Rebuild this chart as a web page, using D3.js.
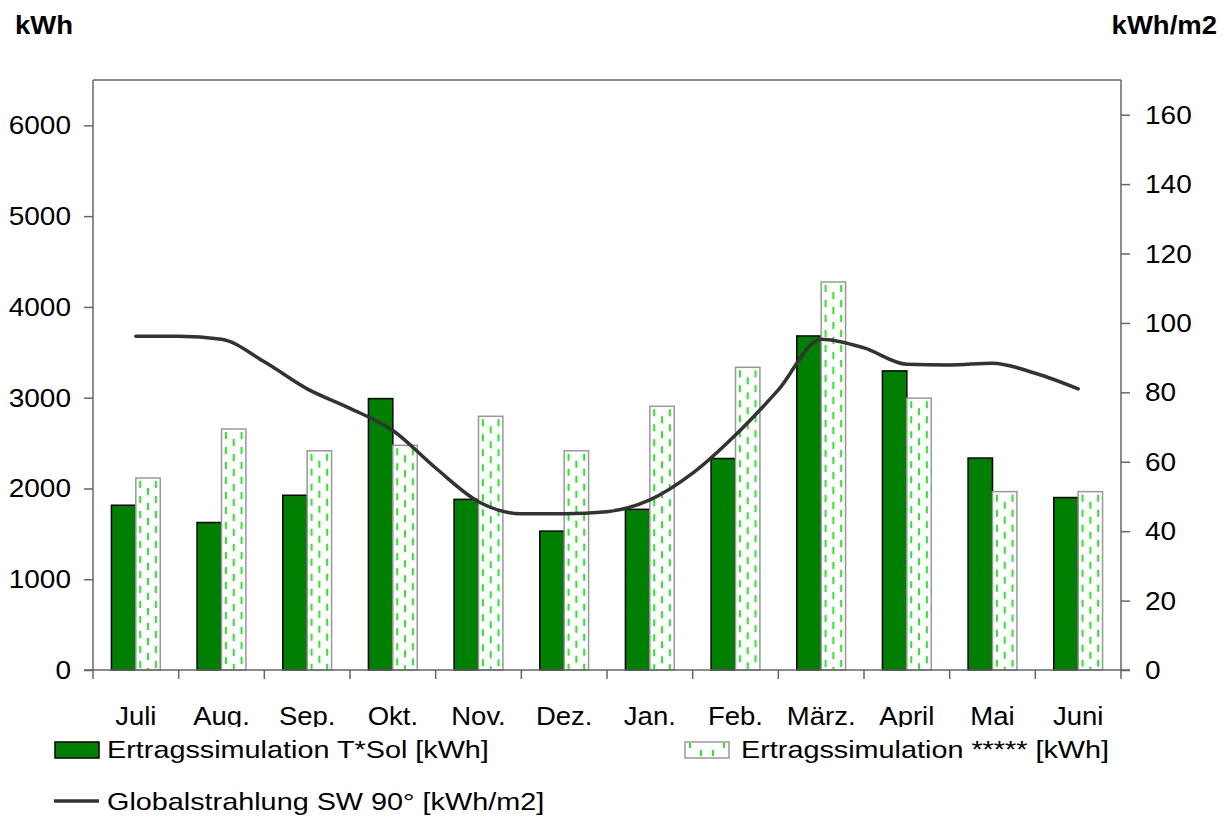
<!DOCTYPE html>
<html>
<head>
<meta charset="utf-8">
<script src="https://cdn.jsdelivr.net/npm/d3@7"></script>
<style>
  body { margin: 0; background: #fff; }
  svg { font-family: "Liberation Sans", Arial, sans-serif; }
</style>
</head>
<body>
<div id="chart"></div>
<script>
// data
const months = ['Juli', 'Aug.', 'Sep.', 'Okt.', 'Nov.', 'Dez.', 'Jan.', 'Feb.', 'März.', 'April', 'Mai', 'Juni'];
const tsolValues = [1815, 1625, 1925, 2990, 1880, 1530, 1770, 2330, 3680, 3295, 2335, 1900];
const simValues = [2115, 2655, 2415, 2475, 2795, 2415, 2905, 3335, 4275, 2995, 1965, 1965];
// global radiation, sampled every half month starting at Juli
const radPositions = [0, 0.5, 1, 1.5, 2, 2.5, 3, 3.5, 4, 4.5, 5, 5.5, 6, 6.5, 7, 7.5, 8, 8.5, 9, 9.5, 10, 10.5, 11];
const radValues = [96.2, 96.2, 95.3, 88.8, 81.0, 75.4, 69.0, 58.2, 48.5, 45.0, 45.0, 45.6, 49.0, 56.7, 67.7, 80.7, 95.3, 92.8, 88.1, 87.9, 88.4, 85.5, 81.0];
const leftTicks = [0, 1000, 2000, 3000, 4000, 5000, 6000];
const rightTicks = [0, 20, 40, 60, 80, 100, 120, 140, 160];

const width = 1228, height = 818;
const margin = {top: 80, right: 107, bottom: 148, left: 93};
const innerWidth = width - margin.left - margin.right;
const innerHeight = height - margin.top - margin.bottom;
const axisColor = '#666';
const stretch = 1.12; // the original font is drawn a bit wider

const svg = d3.select('#chart').append('svg')
    .attr('width', width)
    .attr('height', height);

const g = svg.append('g')
    .attr('transform', `translate(${margin.left}, ${margin.top})`);

// scales
const x = d3.scaleBand().domain(months).range([0, innerWidth]);
const barW = x.step() * 0.285;
const yL = d3.scaleLinear().domain([0, 6500]).range([innerHeight, 0]);
const yR = d3.scaleLinear().domain([0, 170]).range([innerHeight, 0]);
const xPos = p => x(months[0]) + x.step() / 2 + p * x.step();

// helper for stretched text
function addText(parent, tx, ty, txt, size, anchor, sx, bold) {
    return parent.append('text')
        .attr('transform', `translate(${tx}, ${ty}) scale(${sx}, 1)`)
        .attr('text-anchor', anchor)
        .style('font-size', size + 'px')
        .style('font-weight', bold ? 'bold' : 'normal')
        .attr('fill', '#000')
        .text(txt);
}

// plot frame (top line)
g.append('line')
    .attr('x1', 0).attr('x2', innerWidth)
    .attr('y1', 0).attr('y2', 0)
    .attr('stroke', axisColor).attr('stroke-width', 1.5);

// bars T*Sol
g.selectAll('.bar-tsol')
    .data(months)
    .enter()
    .append('rect')
    .attr('class', 'bar-tsol')
    .attr('x', d => x(d) + x.step() / 2 - barW)
    .attr('width', barW)
    .attr('y', (d, i) => yL(tsolValues[i]))
    .attr('height', (d, i) => innerHeight - yL(tsolValues[i]))
    .attr('fill', '#008000')
    .attr('stroke', '#000')
    .attr('stroke-width', 1.5);

// bars ***** (white with dashed green columns)
const simBars = g.selectAll('.bar-sim')
    .data(months)
    .enter()
    .append('g')
    .attr('class', 'bar-sim');

simBars.append('rect')
    .attr('x', d => x(d) + x.step() / 2)
    .attr('width', barW)
    .attr('y', (d, i) => yL(simValues[i]))
    .attr('height', (d, i) => innerHeight - yL(simValues[i]))
    .attr('fill', '#fff');

[0.18, 0.5, 0.82].forEach((f, j) => {
    simBars.append('line')
        .attr('x1', d => x(d) + x.step() / 2 + barW * f)
        .attr('x2', d => x(d) + x.step() / 2 + barW * f)
        .attr('y1', (d, i) => yL(simValues[i]) + 3)
        .attr('y2', innerHeight)
        .attr('stroke', '#22ee22')
        .attr('stroke-width', 2)
        .attr('stroke-dasharray', '7,8')
        .attr('stroke-dashoffset', j === 1 ? -7 : 0);
});

simBars.append('rect')
    .attr('x', d => x(d) + x.step() / 2)
    .attr('width', barW)
    .attr('y', (d, i) => yL(simValues[i]))
    .attr('height', (d, i) => innerHeight - yL(simValues[i]))
    .attr('fill', 'none')
    .attr('stroke', '#999')
    .attr('stroke-width', 1.5);

// radiation line
const line = d3.line()
    .x(d => xPos(d.p))
    .y(d => yR(d.v))
    .curve(d3.curveMonotoneX);

g.append('path')
    .datum(radPositions.map((p, i) => ({p: p, v: radValues[i]})))
    .attr('d', line)
    .attr('fill', 'none')
    .attr('stroke', '#333')
    .attr('stroke-width', 3.5)
    .attr('stroke-linecap', 'round');

// left axis
const leftAxis = g.append('g')
    .call(d3.axisLeft(yL).tickValues(leftTicks).tickSize(9).tickSizeOuter(0).tickFormat(''));
leftTicks.forEach(t => addText(g, -22, yL(t) + 9, String(t), 25, 'end', stretch));

// right axis
const rightAxis = g.append('g')
    .attr('transform', `translate(${innerWidth}, 0)`)
    .call(d3.axisRight(yR).tickValues(rightTicks).tickSize(9).tickSizeOuter(0).tickFormat(''));
rightTicks.forEach(t => addText(g, innerWidth + 24, yR(t) + 9, String(t), 25, 'start', stretch));

[leftAxis, rightAxis].forEach(ax => {
    ax.select('.domain').attr('stroke', axisColor).attr('stroke-width', 1.5).attr('d', `M0,0V${innerHeight}`);
    ax.selectAll('.tick line').attr('stroke', axisColor).attr('stroke-width', 1.5);
});

// bottom axis with ticks between categories
const bottom = g.append('g').attr('transform', `translate(0, ${innerHeight})`);
bottom.append('line')
    .attr('x1', -9).attr('x2', innerWidth + 9)
    .attr('stroke', axisColor).attr('stroke-width', 1.5);
bottom.selectAll('.cat-tick')
    .data(months.concat(['end']))
    .enter()
    .append('line')
    .attr('class', 'cat-tick')
    .attr('x1', (d, i) => i * x.step())
    .attr('x2', (d, i) => i * x.step())
    .attr('y1', 0).attr('y2', 9)
    .attr('stroke', axisColor).attr('stroke-width', 1.5);
months.forEach(m => addText(bottom, x(m) + x.step() / 2, 55, m, 25, 'middle', 1.1));

// axis unit titles
addText(svg, 15, 34, 'kWh', 25, 'start', 1.1, true);
addText(svg, 1217, 34, 'kWh/m2', 25, 'end', 1.1, true);

// legend (its white box trims the month labels like in the original)
const legend = svg.append('g');
legend.append('rect')
    .attr('x', 0).attr('y', 727)
    .attr('width', width).attr('height', height - 727)
    .attr('fill', '#fff');

legend.append('rect')
    .attr('x', 55).attr('y', 742).attr('width', 44).attr('height', 16)
    .attr('fill', '#008000').attr('stroke', '#000').attr('stroke-width', 1.5);
addText(legend, 107, 758, 'Ertragssimulation T*Sol [kWh]', 24, 'start', 1.2);

legend.append('rect')
    .attr('x', 685).attr('y', 742).attr('width', 44).attr('height', 16)
    .attr('fill', '#fff');
[5, 16, 28, 39].forEach(dx => {
    legend.append('line')
        .attr('x1', 685 + dx).attr('x2', 685 + dx)
        .attr('y1', dx % 2 ? 743 : 750).attr('y2', dx % 2 ? 748 : 756)
        .attr('stroke', '#22ee22').attr('stroke-width', 2);
});
legend.append('rect')
    .attr('x', 685).attr('y', 742).attr('width', 44).attr('height', 16)
    .attr('fill', 'none').attr('stroke', '#999').attr('stroke-width', 1.5);
addText(legend, 741, 758, 'Ertragssimulation ***** [kWh]', 24, 'start', 1.2);

legend.append('line')
    .attr('x1', 54).attr('x2', 99)
    .attr('y1', 801).attr('y2', 801)
    .attr('stroke', '#333').attr('stroke-width', 3.5);
addText(legend, 107, 810, 'Globalstrahlung SW 90° [kWh/m2]', 24, 'start', 1.2);
</script>
</body>
</html>
